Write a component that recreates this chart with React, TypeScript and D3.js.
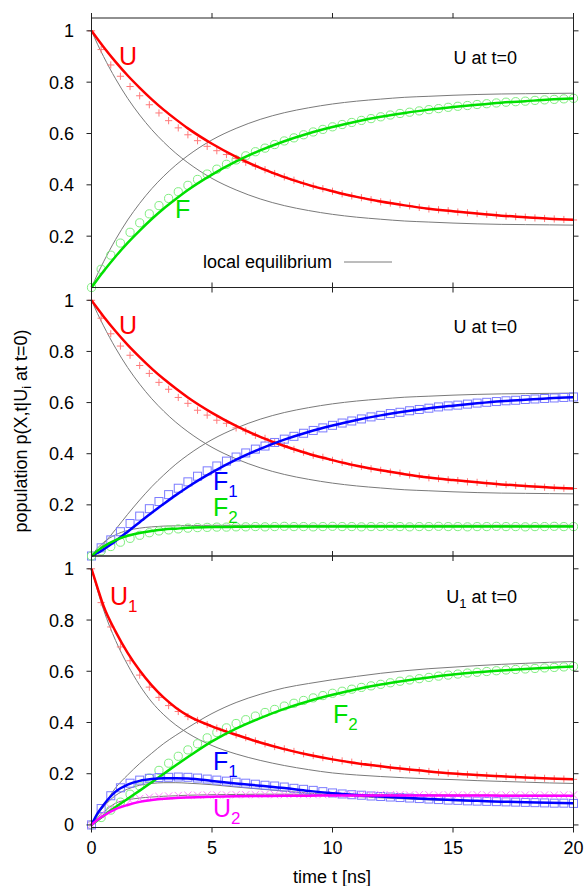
import React from "react";
import * as d3 from "d3";

// ---------- data ----------
const tLine = [0, 0.25, 0.5, 1, 1.5, 2, 2.5, 3, 3.5, 4, 5, 6, 7, 8, 9, 10, 11, 12, 13, 14, 15, 16, 17, 18, 19, 20];
const tMark = [0, 0.4, 0.8, 1.2, 1.6, 2, 2.4, 2.8, 3.2, 3.6, 4, 4.4, 4.8, 5.2, 5.6, 6, 6.4, 6.8, 7.2, 7.6, 8, 8.4, 8.8, 9.2, 9.6, 10, 10.4, 10.8, 11.2, 11.6, 12, 12.4, 12.8, 13.2, 13.6, 14, 14.4, 14.8, 15.2, 15.6, 16, 16.4, 16.8, 17.2, 17.6, 18, 18.4, 18.8, 19.2, 19.6, 20];

const xTicks = [0, 5, 10, 15, 20];
const yTicksUpper = [0.2, 0.4, 0.6, 0.8, 1];
const yTicksLower = [0, 0.2, 0.4, 0.6, 0.8, 1];

// top panel (U at t=0)
const topU = [1, 0.968, 0.937, 0.879, 0.826, 0.778, 0.733, 0.692, 0.655, 0.620, 0.560, 0.509, 0.466, 0.430, 0.400, 0.375, 0.353, 0.335, 0.320, 0.307, 0.297, 0.288, 0.280, 0.274, 0.268, 0.264];
const topF = [0, 0.032, 0.063, 0.121, 0.174, 0.222, 0.267, 0.308, 0.345, 0.380, 0.440, 0.491, 0.534, 0.570, 0.600, 0.625, 0.647, 0.665, 0.680, 0.693, 0.703, 0.712, 0.720, 0.726, 0.732, 0.736];
const topUeq = [1, 0.948, 0.900, 0.813, 0.737, 0.672, 0.615, 0.566, 0.523, 0.486, 0.425, 0.380, 0.345, 0.319, 0.300, 0.285, 0.274, 0.266, 0.259, 0.255, 0.251, 0.248, 0.246, 0.245, 0.244, 0.243];
const topFeq = [0, 0.052, 0.100, 0.187, 0.263, 0.328, 0.385, 0.434, 0.477, 0.514, 0.575, 0.620, 0.655, 0.681, 0.700, 0.715, 0.726, 0.734, 0.741, 0.745, 0.749, 0.752, 0.754, 0.755, 0.756, 0.757];
const topUmark = [1.000, 0.927, 0.867, 0.823, 0.783, 0.747, 0.712, 0.680, 0.650, 0.622, 0.595, 0.572, 0.550, 0.533, 0.518, 0.503, 0.488, 0.473, 0.459, 0.444, 0.431, 0.418, 0.405, 0.395, 0.385, 0.375, 0.365, 0.357, 0.350, 0.342, 0.334, 0.329, 0.323, 0.318, 0.312, 0.306, 0.303, 0.299, 0.294, 0.291, 0.288, 0.285, 0.282, 0.278, 0.276, 0.274, 0.271, 0.269, 0.267, 0.265, 0.263];
const topFmark = [0, 0.071, 0.126, 0.173, 0.215, 0.252, 0.287, 0.319, 0.347, 0.373, 0.398, 0.421, 0.442, 0.461, 0.480, 0.497, 0.513, 0.529, 0.543, 0.557, 0.571, 0.583, 0.595, 0.606, 0.616, 0.626, 0.635, 0.643, 0.651, 0.658, 0.665, 0.672, 0.678, 0.683, 0.688, 0.693, 0.697, 0.702, 0.706, 0.709, 0.713, 0.716, 0.719, 0.722, 0.724, 0.726, 0.729, 0.731, 0.733, 0.735, 0.737];

// middle panel (U at t=0, two F states)
const midU = [1, 0.968, 0.937, 0.879, 0.826, 0.778, 0.733, 0.692, 0.655, 0.620, 0.560, 0.509, 0.466, 0.430, 0.400, 0.375, 0.353, 0.335, 0.320, 0.307, 0.297, 0.288, 0.280, 0.274, 0.268, 0.264];
const midF1 = [0, 0.012, 0.026, 0.059, 0.095, 0.132, 0.169, 0.204, 0.238, 0.270, 0.327, 0.377, 0.419, 0.455, 0.485, 0.510, 0.532, 0.550, 0.565, 0.578, 0.588, 0.597, 0.605, 0.611, 0.617, 0.621];
const midF2 = [0, 0.020, 0.037, 0.062, 0.079, 0.090, 0.098, 0.104, 0.107, 0.110, 0.113, 0.114, 0.115, 0.115, 0.115, 0.115, 0.115, 0.115, 0.115, 0.115, 0.115, 0.115, 0.115, 0.115, 0.115, 0.115];
const midUeq = [1, 0.948, 0.900, 0.813, 0.737, 0.672, 0.615, 0.566, 0.523, 0.486, 0.425, 0.380, 0.345, 0.319, 0.300, 0.285, 0.274, 0.266, 0.259, 0.255, 0.251, 0.248, 0.246, 0.245, 0.244, 0.243];
const midF1eq = [0, 0.021, 0.047, 0.104, 0.163, 0.219, 0.271, 0.317, 0.359, 0.395, 0.455, 0.500, 0.535, 0.561, 0.580, 0.595, 0.606, 0.614, 0.621, 0.625, 0.629, 0.632, 0.634, 0.635, 0.636, 0.637];
const midF2eq = [0, 0.031, 0.053, 0.083, 0.100, 0.109, 0.114, 0.117, 0.118, 0.119, 0.120, 0.120, 0.120, 0.120, 0.120, 0.120, 0.120, 0.120, 0.120, 0.120, 0.120, 0.120, 0.120, 0.120, 0.120, 0.120];
const midUmark = [1.000, 0.930, 0.869, 0.821, 0.785, 0.745, 0.714, 0.679, 0.652, 0.620, 0.597, 0.570, 0.551, 0.531, 0.519, 0.501, 0.489, 0.472, 0.460, 0.443, 0.432, 0.417, 0.406, 0.394, 0.386, 0.374, 0.366, 0.356, 0.350, 0.341, 0.335, 0.328, 0.324, 0.317, 0.313, 0.306, 0.303, 0.298, 0.295, 0.290, 0.288, 0.284, 0.282, 0.279, 0.276, 0.273, 0.272, 0.269, 0.267, 0.265, 0.264];
const midF1mark = [0, 0.032, 0.063, 0.095, 0.127, 0.156, 0.185, 0.213, 0.240, 0.265, 0.290, 0.312, 0.333, 0.352, 0.371, 0.387, 0.403, 0.418, 0.430, 0.444, 0.457, 0.468, 0.480, 0.491, 0.501, 0.511, 0.520, 0.528, 0.536, 0.544, 0.550, 0.557, 0.562, 0.568, 0.573, 0.578, 0.583, 0.587, 0.590, 0.594, 0.598, 0.601, 0.604, 0.607, 0.609, 0.612, 0.614, 0.616, 0.618, 0.620, 0.622];
const midF2mark = [0, 0.020, 0.037, 0.054, 0.069, 0.081, 0.091, 0.098, 0.102, 0.106, 0.109, 0.111, 0.112, 0.113, 0.113, 0.114, 0.114, 0.115, 0.114, 0.115, 0.116, 0.115, 0.115, 0.114, 0.115, 0.116, 0.115, 0.115, 0.114, 0.115, 0.115, 0.116, 0.115, 0.114, 0.115, 0.115, 0.116, 0.115, 0.115, 0.114, 0.115, 0.115, 0.116, 0.115, 0.115, 0.114, 0.115, 0.115, 0.116, 0.115, 0.115];

// bottom panel (U1 at t=0)
const botU1 = [1, 0.926, 0.855, 0.755, 0.672, 0.603, 0.545, 0.497, 0.458, 0.427, 0.385, 0.352, 0.322, 0.296, 0.274, 0.256, 0.241, 0.229, 0.218, 0.209, 0.201, 0.195, 0.19, 0.185, 0.181, 0.178];
const botU2 = [0, 0.02, 0.036, 0.062, 0.078, 0.09, 0.097, 0.102, 0.105, 0.107, 0.11, 0.112, 0.113, 0.114, 0.114, 0.115, 0.115, 0.115, 0.115, 0.115, 0.115, 0.115, 0.114, 0.114, 0.114, 0.114];
const botF1 = [0, 0.045, 0.078, 0.13, 0.157, 0.172, 0.179, 0.182, 0.182, 0.181, 0.172, 0.162, 0.153, 0.144, 0.133, 0.124, 0.117, 0.111, 0.106, 0.101, 0.097, 0.094, 0.091, 0.089, 0.087, 0.085];
const botF2 = [0, 0.018, 0.036, 0.07, 0.102, 0.134, 0.167, 0.2, 0.233, 0.265, 0.326, 0.376, 0.417, 0.453, 0.483, 0.508, 0.53, 0.548, 0.563, 0.576, 0.587, 0.596, 0.603, 0.609, 0.614, 0.619];
const botU1eq = [1, 0.915, 0.84, 0.72, 0.625, 0.545, 0.48, 0.43, 0.39, 0.358, 0.31, 0.277, 0.252, 0.232, 0.216, 0.203, 0.195, 0.189, 0.184, 0.18, 0.177, 0.173, 0.17, 0.167, 0.164, 0.162];
const botU2eq = [0, 0.03, 0.05, 0.085, 0.098, 0.105, 0.109, 0.112, 0.114, 0.116, 0.118, 0.119, 0.12, 0.12, 0.12, 0.12, 0.119, 0.119, 0.118, 0.118, 0.117, 0.117, 0.116, 0.116, 0.116, 0.115];
const botF1eq = [0, 0.04, 0.07, 0.115, 0.14, 0.155, 0.162, 0.165, 0.165, 0.163, 0.157, 0.148, 0.14, 0.132, 0.124, 0.117, 0.111, 0.106, 0.102, 0.098, 0.095, 0.092, 0.09, 0.088, 0.086, 0.085];
const botF2eq = [0, 0.04, 0.075, 0.145, 0.195, 0.24, 0.28, 0.318, 0.35, 0.38, 0.435, 0.478, 0.51, 0.535, 0.552, 0.567, 0.58, 0.592, 0.602, 0.61, 0.616, 0.622, 0.627, 0.631, 0.635, 0.638];
const botU1mark = [1, 0.868, 0.773, 0.695, 0.641, 0.585, 0.538, 0.498, 0.466, 0.443, 0.423, 0.408, 0.392, 0.378, 0.364, 0.352, 0.341, 0.328, 0.317, 0.306, 0.297, 0.287, 0.278, 0.271, 0.263, 0.256, 0.25, 0.245, 0.239, 0.234, 0.229, 0.224, 0.22, 0.216, 0.212, 0.209, 0.205, 0.202, 0.2, 0.197, 0.195, 0.193, 0.191, 0.189, 0.187, 0.185, 0.184, 0.182, 0.18, 0.179, 0.178];
const botU2mark = [0, 0.040, 0.065, 0.083, 0.095, 0.103, 0.108, 0.111, 0.113, 0.115, 0.116, 0.116, 0.117, 0.117, 0.117, 0.118, 0.118, 0.118, 0.119, 0.118, 0.118, 0.119, 0.118, 0.118, 0.118, 0.119, 0.118, 0.118, 0.118, 0.118, 0.119, 0.118, 0.118, 0.117, 0.118, 0.118, 0.117, 0.118, 0.117, 0.117, 0.118, 0.117, 0.117, 0.117, 0.118, 0.117, 0.117, 0.117, 0.116, 0.117, 0.117];
const botF1mark = [0, 0.064, 0.114, 0.145, 0.163, 0.175, 0.182, 0.185, 0.186, 0.187, 0.186, 0.183, 0.179, 0.175, 0.171, 0.167, 0.163, 0.159, 0.155, 0.152, 0.148, 0.143, 0.139, 0.135, 0.130, 0.125, 0.121, 0.118, 0.116, 0.113, 0.111, 0.109, 0.107, 0.105, 0.103, 0.101, 0.099, 0.097, 0.096, 0.094, 0.093, 0.092, 0.091, 0.090, 0.089, 0.088, 0.087, 0.086, 0.085, 0.085, 0.084];
const botF2mark = [0, 0.029, 0.058, 0.089, 0.120, 0.152, 0.183, 0.213, 0.241, 0.268, 0.293, 0.317, 0.340, 0.361, 0.379, 0.396, 0.411, 0.425, 0.439, 0.451, 0.464, 0.475, 0.486, 0.496, 0.505, 0.514, 0.522, 0.530, 0.537, 0.543, 0.549, 0.555, 0.561, 0.566, 0.571, 0.576, 0.581, 0.585, 0.589, 0.593, 0.596, 0.599, 0.602, 0.605, 0.607, 0.609, 0.611, 0.613, 0.615, 0.617, 0.619];

// ---------- styling ----------
const RED = "#ff0000", GREEN = "#00e000", BLUE = "#0000ff", MAG = "#ff00ff";
const RED_L = "#ff7a7a", GREEN_L = "#80ee80", BLUE_L = "#7a7aff", MAG_L = "#ff80ff";
const GRAY = "#7a7a7a";
const FONT = "'Liberation Sans', Arial, Helvetica, sans-serif";

type Shape = "plus" | "circle" | "square" | "cross";

const W = 587, H = 886;
const X0 = 91.5, X1 = 573.5;

const panels = [
  {
    top: 18, bottom: 287.5, domain: [0, 1.05], yTicks: yTicksUpper,
    grays: [topUeq, topFeq],
    markers: [{ v: topUmark, c: RED_L, s: "plus" as Shape }, { v: topFmark, c: GREEN_L, s: "circle" as Shape }],
    lines: [{ v: topU, c: RED }, { v: topF, c: GREEN }],
  },
  {
    top: 287.5, bottom: 556, domain: [0, 1.05], yTicks: yTicksUpper,
    grays: [midUeq, midF1eq, midF2eq],
    markers: [{ v: midUmark, c: RED_L, s: "plus" as Shape }, { v: midF1mark, c: BLUE_L, s: "square" as Shape }, { v: midF2mark, c: GREEN_L, s: "circle" as Shape }],
    lines: [{ v: midU, c: RED }, { v: midF1, c: BLUE }, { v: midF2, c: GREEN }],
  },
  {
    top: 556, bottom: 827.5, domain: [-0.01, 1.05], yTicks: yTicksLower,
    grays: [botU1eq, botU2eq, botF1eq, botF2eq],
    markers: [{ v: botU1mark, c: RED_L, s: "plus" as Shape }, { v: botF2mark, c: GREEN_L, s: "circle" as Shape }, { v: botF1mark, c: BLUE_L, s: "square" as Shape }, { v: botU2mark, c: MAG_L, s: "cross" as Shape }],
    lines: [{ v: botU1, c: RED }, { v: botF2, c: GREEN }, { v: botF1, c: BLUE }, { v: botU2, c: MAG }],
  },
];

function Marker({ x, y, s, c }: { x: number; y: number; s: Shape; c: string }) {
  const h = 3.6;
  if (s === "plus") return <path d={`M${x - h},${y}H${x + h}M${x},${y - h}V${y + h}`} stroke={c} strokeWidth={1} fill="none" />;
  if (s === "cross") return <path d={`M${x - h},${y - h}L${x + h},${y + h}M${x + h},${y - h}L${x - h},${y + h}`} stroke={c} strokeWidth={1} fill="none" />;
  if (s === "circle") return <circle cx={x} cy={y} r={4.1} stroke={c} strokeWidth={1} fill="none" />;
  return <rect x={x - 4} y={y - 4} width={8} height={8} stroke={c} strokeWidth={1} fill="none" />;
}

export default function App() {
  const x = d3.scaleLinear().domain([0, 20]).range([X0, X1]);
  const tick = 5;

  const sub = (main: string, s: string, subSize: number, dy: number) => (
    <>
      {main}
      <tspan dy={dy} fontSize={subSize}>{s}</tspan>
    </>
  );

  return (
    <svg width={W} height={H} style={{ position: "absolute", left: 0, top: 0, background: "#fff" }} fontFamily={FONT}>
      {panels.map((p, pi) => {
        const y = d3.scaleLinear().domain(p.domain).range([p.bottom, p.top]);
        const lg = d3.line<number>().x((_, i) => x(tLine[i])).y((d) => y(d)).curve(d3.curveMonotoneX);
        return (
          <g key={pi}>
            {p.grays.map((g, i) => (
              <path key={"g" + i} d={lg(g) || ""} fill="none" stroke={GRAY} strokeWidth={1} />
            ))}
            {p.markers.map((m, i) => (
              <g key={"m" + i}>
                {m.v.map((v, j) => (
                  <Marker key={j} x={x(tMark[j])} y={y(v)} s={m.s} c={m.c} />
                ))}
              </g>
            ))}
            {p.lines.map((l, i) => (
              <path key={"l" + i} d={lg(l.v) || ""} fill="none" stroke={l.c} strokeWidth={2.5} strokeLinejoin="round" />
            ))}
            <rect x={X0} y={p.top} width={X1 - X0} height={p.bottom - p.top} fill="none" stroke="#222" strokeWidth={1} />
            {xTicks.map((t) => (
              <g key={"xt" + t}>
                <line x1={x(t)} x2={x(t)} y1={p.top} y2={p.top - tick} stroke="#222" />
                <line x1={x(t)} x2={x(t)} y1={p.bottom} y2={p.bottom + tick} stroke="#222" />
              </g>
            ))}
            {p.yTicks.map((t) => (
              <g key={"yt" + t}>
                <line x1={X0} x2={X0 - tick} y1={y(t)} y2={y(t)} stroke="#222" />
                <line x1={X1} x2={X1 + tick} y1={y(t)} y2={y(t)} stroke="#222" />
                <text x={74} y={y(t) + 6.5} fontSize={18} textAnchor="end" fill="#000">
                  {String(t)}
                </text>
              </g>
            ))}
          </g>
        );
      })}

      {xTicks.map((t) => (
        <text key={"xl" + t} x={x(t)} y={853.5} fontSize={18} textAnchor="middle" fill="#000">
          {String(t)}
        </text>
      ))}
      <text x={332} y={883} fontSize={18} textAnchor="middle" fill="#000">time t [ns]</text>

      <text transform="translate(27,431) rotate(-90)" fontSize={18} textAnchor="middle" fill="#000">
        population p(X,t|U<tspan dy={4} fontSize={13}>i</tspan><tspan dy={-4}> at t=0)</tspan>
      </text>

      {/* top panel annotations */}
      <text x={119} y={65} fontSize={25} fill={RED}>U</text>
      <text x={175} y={218} fontSize={25} fill={GREEN}>F</text>
      <text x={517} y={64} fontSize={18} textAnchor="end" fill="#000">U at t=0</text>
      <text x={332} y={268} fontSize={18} textAnchor="end" fill="#000">local equilibrium</text>
      <line x1={344} x2={392} y1={262} y2={262} stroke={GRAY} strokeWidth={1} />

      {/* middle panel annotations */}
      <text x={119} y={334} fontSize={25} fill={RED}>U</text>
      <text x={517} y={333} fontSize={18} textAnchor="end" fill="#000">U at t=0</text>
      <text x={213} y={490} fontSize={25} fill={BLUE}>{sub("F", "1", 17, 7)}</text>
      <text x={213} y={516} fontSize={25} fill={GREEN}>{sub("F", "2", 17, 7)}</text>

      {/* bottom panel annotations */}
      <text x={110} y={605} fontSize={25} fill={RED}>{sub("U", "1", 17, 7)}</text>
      <text x={517} y={603} fontSize={18} textAnchor="end" fill="#000">
        U<tspan dy={5} fontSize={13}>1</tspan><tspan dy={-5}> at t=0</tspan>
      </text>
      <text x={333} y={723} fontSize={25} fill={GREEN}>{sub("F", "2", 17, 7)}</text>
      <text x={213} y={770} fontSize={25} fill={BLUE}>{sub("F", "1", 17, 7)}</text>
      <text x={213} y={817} fontSize={25} fill={MAG}>{sub("U", "2", 17, 7)}</text>
    </svg>
  );
}
